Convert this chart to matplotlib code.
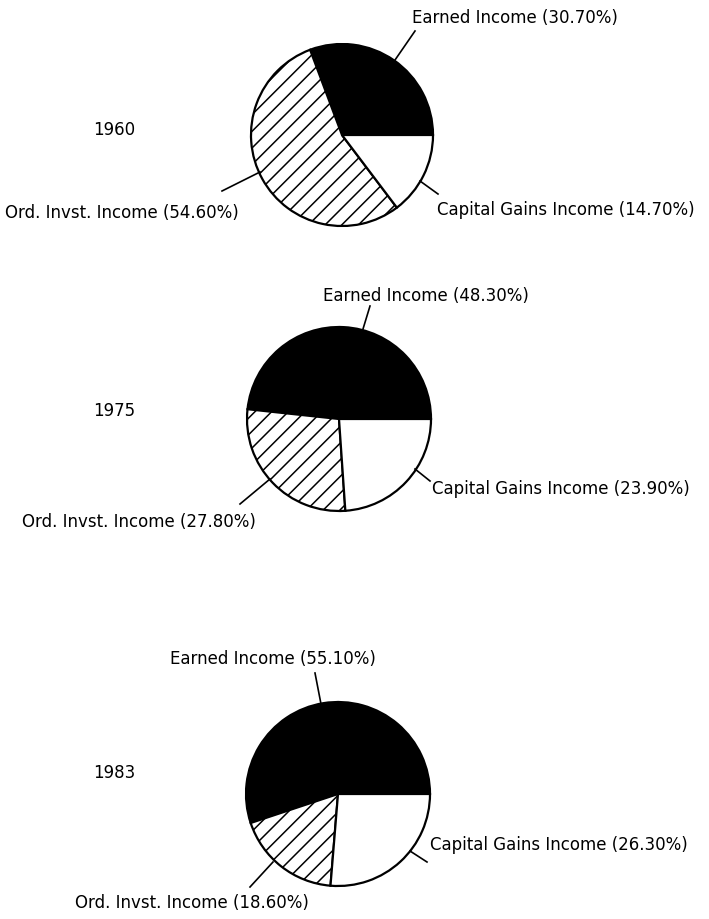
import matplotlib
matplotlib.use("Agg")
import matplotlib.pyplot as plt

plt.rcParams['font.family'] = ['DejaVu Sans']
plt.rcParams['hatch.linewidth'] = 1.1

# shares of income, in percent
years = ["1960", "1975", "1983"]
categories = ["Earned Income", "Ord. Invst. Income", "Capital Gains Income"]
earned = [30.70, 48.30, 55.10]
ord_invst = [54.60, 27.80, 18.60]
cap_gains = [14.70, 23.90, 26.30]

W, H = 709, 920

fig = plt.figure(figsize=(W / 100, H / 100), dpi=100)
ax = fig.add_axes([0, 0, 1, 1])

# layout in pixels from the top-left corner
centers = [(342, 136), (339, 420), (338, 795)]
radius = [91, 92, 92]
year_pos = [(93, 130), (93, 411), (93, 773)]
label_pos = [
    [(412, 18), (5, 213), (437, 210)],
    [(323, 296), (22, 522), (432, 489)],
    [(170, 659), (75, 903), (430, 845)],
]
leaders = [
    [((415, 32), (395, 61)), ((222, 192), (260, 173)), ((420, 182), (438, 195))],
    [((370, 307), (363, 330)), ((240, 505), (270, 480)), ((415, 470), (430, 482))],
    [((315, 674), (321, 705)), ((250, 888), (273, 863)), ((410, 852), (427, 863))],
]

def fy(y):
    return H - y

for i, yr in enumerate(years):
    vals = [earned[i], ord_invst[i], cap_gains[i]]
    cx, cy = centers[i]
    wedges, _ = ax.pie(vals, center=(cx, fy(cy)), radius=radius[i],
                       startangle=0, counterclock=True, frame=True,
                       colors=["black", "white", "white"],
                       wedgeprops=dict(edgecolor="black", linewidth=1.6))
    wedges[1].set_hatch("//")

    ax.text(year_pos[i][0], fy(year_pos[i][1]), yr, fontsize=12,
            ha="left", va="center")

    for j, cat in enumerate(categories):
        lx, ly = label_pos[i][j]
        ax.text(lx, fy(ly), f"{cat} ({vals[j]:.2f}%)", fontsize=12,
                ha="left", va="center")
        (x0, y0), (x1, y1) = leaders[i][j]
        ax.plot([x0, x1], [fy(y0), fy(y1)], color="black", lw=1.2)

ax.set_xlim(0, W)
ax.set_ylim(0, H)
ax.set_aspect("equal")
ax.axis("off")

fig.savefig("out.png", dpi=100, facecolor="white")
